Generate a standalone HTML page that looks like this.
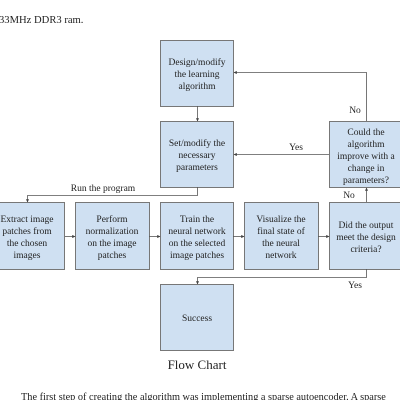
<!DOCTYPE html>
<html><head><style>
body{margin:0;width:400px;height:400px;overflow:hidden;background:#fff;font-family:"Liberation Serif",serif;}
</style></head><body>
<svg width="400" height="400" xmlns="http://www.w3.org/2000/svg" font-family="Liberation Serif, serif" font-size="9.5" fill="#222">
<defs><marker id="a" markerWidth="4" markerHeight="4" refX="3.5" refY="2" orient="auto"><path d="M0,0L4,2L0,4z" fill="#444"/></marker></defs>
<text x="-1" y="23" font-size="10.6">33MHz DDR3 ram.</text>
<g fill="#cfe0f2" stroke="#777" stroke-width="1">
<rect x="160.5" y="40.5" width="73" height="66"/>
<rect x="160.5" y="121.5" width="73" height="66"/>
<rect x="329.5" y="121.5" width="73" height="66"/>
<rect x="-10.5" y="202.5" width="75" height="67"/>
<rect x="75.5" y="202.5" width="74" height="67"/>
<rect x="160.5" y="202.5" width="73" height="67"/>
<rect x="244.5" y="202.5" width="74" height="67"/>
<rect x="329.5" y="202.5" width="73" height="67"/>
<rect x="160.5" y="284.5" width="73" height="66"/>
</g>
<g stroke="#555" stroke-width="0.8" fill="none" marker-end="url(#a)">
<path d="M197.5 106V121"/>
<path d="M366.5 121V72.5H234"/>
<path d="M329 154.5H234"/>
<path d="M197.5 187V195.5H27.5V202"/>
<path d="M65 236.5H75"/>
<path d="M149 236.5H160"/>
<path d="M233 236.5H244"/>
<path d="M318 236.5H329"/>
<path d="M366.5 202V188"/>
<path d="M366.5 269V277.5H197.5V284"/>
</g>
<g text-anchor="middle">
<text x="197" y="65">Design/modify</text><text x="197" y="77">the learning</text><text x="197" y="89">algorithm</text>
<text x="197" y="146">Set/modify the</text><text x="197" y="158">necessary</text><text x="197" y="170">parameters</text>
<text x="366" y="135">Could the</text><text x="366" y="147">algorithm</text><text x="366" y="159">improve with a</text><text x="366" y="171">change in</text><text x="366" y="183">parameters?</text>
<text x="27" y="222">Extract image</text><text x="27" y="234">patches from</text><text x="27" y="246">the chosen</text><text x="27" y="258">images</text>
<text x="112" y="222">Perform</text><text x="112" y="234">normalization</text><text x="112" y="246">on the image</text><text x="112" y="258">patches</text>
<text x="197" y="222">Train the</text><text x="197" y="234">neural network</text><text x="197" y="246">on the selected</text><text x="197" y="258">image patches</text>
<text x="281" y="222">Visualize the</text><text x="281" y="234">final state of</text><text x="281" y="246">the neural</text><text x="281" y="258">network</text>
<text x="366" y="228">Did the output</text><text x="366" y="240">meet the design</text><text x="366" y="252">criteria?</text>
<text x="197" y="321">Success</text>
<text x="355" y="113">No</text>
<text x="296" y="150">Yes</text>
<text x="103" y="191">Run the program</text>
<text x="349" y="198">No</text>
<text x="355" y="288">Yes</text>
<text x="197" y="369" font-size="13">Flow Chart</text>
</g>
<text x="21" y="400" font-size="10.3">The first step of creating the algorithm was implementing a sparse autoencoder. A sparse</text>
</svg>
</body></html>
